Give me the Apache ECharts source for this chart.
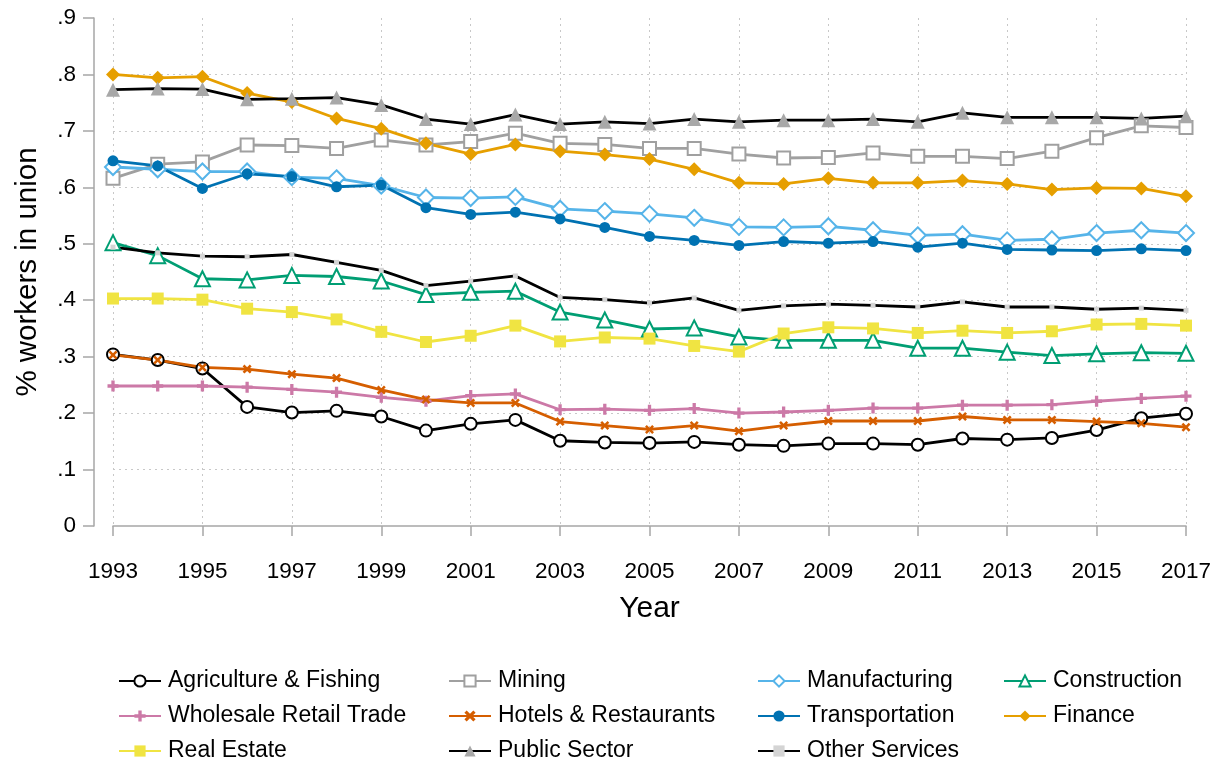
<!DOCTYPE html>
<html>
<head>
<meta charset="utf-8">
<script src="https://cdn.jsdelivr.net/npm/echarts@6/dist/echarts.min.js"></script>
<style>html,body{margin:0;padding:0;background:#fff}#c{width:1223px;height:765px}</style>
</head>
<body>
<div id="c"></div>
<script>
const years = [1993,1994,1995,1996,1997,1998,1999,2000,2001,2002,2003,2004,2005,2006,2007,2008,2009,2010,2011,2012,2013,2014,2015,2016,2017];
const yTicks = [0,0.1,0.2,0.3,0.4,0.5,0.6,0.7,0.8,0.9];

const agriculture    = [.304,.294,.279,.211,.201,.204,.194,.169,.181,.188,.151,.148,.147,.149,.144,.142,.146,.146,.144,.155,.153,.156,.170,.191,.199];
const mining         = [.616,.641,.645,.675,.674,.669,.684,.675,.681,.696,.678,.676,.669,.669,.659,.652,.653,.661,.655,.655,.651,.664,.688,.709,.706];
const manufacturing  = [.636,.632,.628,.628,.618,.616,.603,.582,.581,.583,.562,.558,.553,.546,.530,.529,.531,.524,.515,.517,.506,.508,.519,.524,.519];
const construction   = [.502,.479,.438,.436,.444,.442,.434,.410,.414,.416,.379,.365,.349,.351,.335,.329,.329,.329,.315,.315,.308,.302,.305,.307,.306];
const wholesale      = [.248,.248,.248,.246,.242,.237,.228,.221,.231,.234,.206,.207,.205,.208,.200,.202,.205,.209,.209,.214,.214,.215,.221,.226,.230];
const hotels         = [.303,.294,.281,.278,.269,.262,.241,.224,.218,.218,.185,.178,.171,.178,.168,.178,.186,.186,.186,.194,.188,.188,.185,.182,.175];
const transportation = [.647,.638,.598,.624,.619,.601,.604,.564,.552,.556,.544,.529,.513,.506,.497,.504,.501,.504,.494,.501,.490,.489,.488,.491,.488];
const finance        = [.800,.794,.796,.767,.751,.722,.704,.678,.659,.676,.664,.658,.650,.632,.608,.606,.616,.608,.608,.612,.606,.596,.599,.598,.584];
const realEstate     = [.403,.403,.401,.385,.379,.366,.344,.326,.337,.355,.327,.334,.332,.319,.309,.341,.352,.350,.342,.346,.342,.345,.357,.358,.355];
const publicSector   = [.773,.775,.774,.756,.757,.759,.746,.721,.712,.729,.712,.716,.713,.721,.716,.719,.719,.721,.716,.732,.724,.724,.724,.722,.726];
const otherServices  = [.494,.484,.478,.477,.481,.467,.453,.426,.434,.443,.405,.401,.395,.404,.382,.390,.393,.391,.388,.397,.388,.388,.384,.386,.382];

const FONT = "'Liberation Sans', Arial, Helvetica, sans-serif";
const PLUS = 'path://M0,3.5 L10,3.5 L10,6.5 L0,6.5 Z M3.5,0 L6.5,0 L6.5,10 L3.5,10 Z';
const CROSS = 'path://M2,0 L5,3 L8,0 L10,2 L7,5 L10,8 L8,10 L5,7 L2,10 L0,8 L3,5 L0,2 Z';

function mk(name, data, lineColor, symbol, size, fill, hollow) {
  return {
    name, type: 'line', data,
    symbol, symbolSize: size, showSymbol: true,
    lineStyle: { color: lineColor, width: 2.8 },
    itemStyle: { color: fill, borderColor: fill, borderWidth: hollow ? 2.5 : 0 },
    emphasis: { disabled: true },
    animation: false
  };
}

const series = [
  mk('Agriculture & Fishing', agriculture, '#000000', 'emptyCircle', 12, '#000000', true),
  mk('Mining', mining, '#a0a0a0', 'emptyRect', 13, '#a0a0a0', true),
  mk('Manufacturing', manufacturing, '#56b4e9', 'emptyDiamond', 16, '#56b4e9', true),
  mk('Construction', construction, '#009e73', 'emptyTriangle', 15, '#009e73', true),
  mk('Wholesale Retail Trade', wholesale, '#cc79a7', PLUS, 11, '#cc79a7', false),
  mk('Hotels & Restaurants', hotels, '#d55e00', CROSS, 9, '#d55e00', false),
  mk('Transportation', transportation, '#0072b2', 'circle', 11, '#0072b2', false),
  mk('Finance', finance, '#e69f00', 'diamond', 14, '#e69f00', false),
  mk('Real Estate', realEstate, '#f0e442', 'rect', 12, '#f0e442', false),
  mk('Public Sector', publicSector, '#000000', 'triangle', 14, '#a8a8a8', false),
  mk('Other Services', otherServices, '#000000', 'rect', 5, '#d4d4d4', false)
];

const cols = [
  { left: 118, names: ['Agriculture & Fishing','Wholesale Retail Trade','Real Estate'] },
  { left: 448, names: ['Mining','Hotels & Restaurants','Public Sector'] },
  { left: 757, names: ['Manufacturing','Transportation','Other Services'] },
  { left: 1003, names: ['Construction','Finance'] }
];
const legends = cols.map(c => ({
  orient: 'vertical', left: c.left, top: 669, height: 100, padding: 0,
  data: c.names, itemWidth: 42, itemHeight: 14, itemGap: 11,
  selectedMode: false,
  textStyle: { fontFamily: FONT, fontSize: 23, color: '#000', padding: [0,0,0,2], lineHeight: 24 }
}));

const chart = echarts.init(document.getElementById('c'), null, { renderer: 'canvas' });
chart.setOption({
  backgroundColor: '#fff',
  animation: false,
  legend: legends,
  grid: { left: 113, right: 37, top: 18, bottom: 239, containLabel: false },
  xAxis: {
    type: 'category', data: years.map(String), boundaryGap: false,
    offset: 20,
    name: 'Year', nameLocation: 'middle', nameGap: 48,
    nameTextStyle: { fontFamily: FONT, fontSize: 30, color: '#000' },
    axisLine: { show: true, lineStyle: { color: '#a6a6a6', width: 1.5 } },
    axisTick: { show: true, interval: 1, length: 10, lineStyle: { color: '#a6a6a6', width: 1.5 } },
    axisLabel: { interval: 1, margin: 14, fontFamily: FONT, fontSize: 22.5, color: '#000' },
    splitLine: { show: true, interval: 1, lineStyle: { color: '#c8c8c8', type: [2, 4], width: 1 } }
  },
  yAxis: {
    type: 'value', min: yTicks[0], max: yTicks[yTicks.length - 1], interval: 0.1,
    offset: 19,
    name: '% workers in union', nameLocation: 'middle', nameGap: 51, nameRotate: 90,
    nameTextStyle: { fontFamily: FONT, fontSize: 29.5, color: '#000' },
    axisLine: { show: true, lineStyle: { color: '#a6a6a6', width: 1.5 } },
    axisTick: { show: true, length: 11, lineStyle: { color: '#a6a6a6', width: 1.5 } },
    axisLabel: {
      margin: 18, fontFamily: FONT, fontSize: 22.5, color: '#000',
      formatter: v => { const r = Math.round(v * 10) / 10; return r === 0 ? '0' : r.toFixed(1).replace(/^0/, ''); }
    },
    splitLine: { show: true, showMinLine: false, showMaxLine: false, lineStyle: { color: '#c8c8c8', type: [2, 4], width: 1 } }
  },
  series
});
</script>
</body>
</html>
